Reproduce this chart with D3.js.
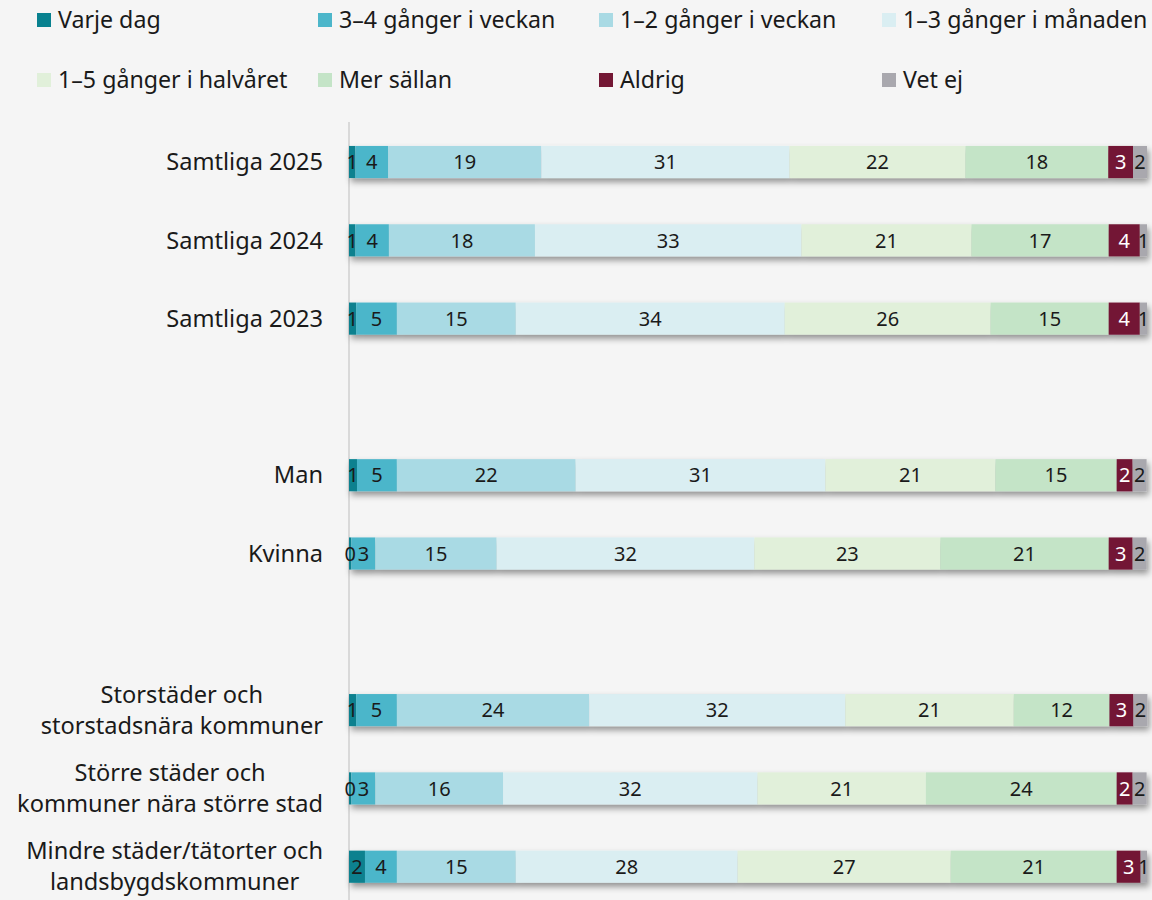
<!DOCTYPE html>
<html><head><meta charset="utf-8">
<script src="https://cdn.jsdelivr.net/npm/d3@7/dist/d3.min.js"></script>
<style>
html,body{margin:0;padding:0;background:#f5f5f5;}
svg{display:block;font-family:"Noto Sans","Open Sans",sans-serif;}
</style></head>
<body><svg id="chart" width="1152" height="900"></svg>
<script>
const categories = ["Samtliga 2025","Samtliga 2024","Samtliga 2023","gap1","Man","Kvinna","gap2",
  "Storstäder och\nstorstadsnära kommuner","Större städer och\nkommuner nära större stad","Mindre städer/tätorter och\nlandsbygdskommuner"];
const seriesNames = ["Varje dag","3–4 gånger i veckan","1–2 gånger i veckan","1–3 gånger i månaden",
  "1–5 gånger i halvåret","Mer sällan","Aldrig","Vet ej"];
const seriesColors = ["#08818f","#4cb6ca","#a9dae4","#daeef2","#e1f0da","#c4e4c7","#731734","#a9a8ae"];
const varjeDag   = [0.8,0.8,0.9,null,1.0,0.3,null,0.9,0.3,2.0];
const tre4Vecka  = [4.1,4.2,5.1,null,5.0,3.0,null,5.1,3.0,4.0];
const en2Vecka   = [19.2,18.3,14.9,null,22.4,15.2,null,24.1,16.0,14.9];
const en3Manad   = [31.1,33.4,33.7,null,31.3,32.3,null,32.1,31.9,27.8];
const en5Halvar  = [22.05,21.3,25.8,null,21.3,23.3,null,21.1,21.1,26.7];
const merSallan  = [17.9,17.2,14.8,null,15.2,21.1,null,12.0,23.9,20.8];
const aldrig     = [3.1,3.9,3.9,null,2.0,3.0,null,3.0,2.0,3.0];
const vetEj      = [1.75,0.9,0.9,null,1.75,1.75,null,1.75,1.75,0.8];
const seriesValues = [varjeDag,tre4Vecka,en2Vecka,en3Manad,en5Halvar,merSallan,aldrig,vetEj];
const xTicks = [0,100];

const svg = d3.select("#chart");
const defs = svg.append("defs");
const f = defs.append("filter").attr("id","shadow").attr("x","-5%").attr("y","-50%").attr("width","110%").attr("height","220%");
f.append("feDropShadow").attr("dx",2).attr("dy",4).attr("stdDeviation",3).attr("flood-color","#000").attr("flood-opacity",0.4);

const x = d3.scaleLinear().domain(xTicks).range([349,1147]);
const y = d3.scaleBand().domain(categories).range([122.85,905.85]).paddingInner(0.59).paddingOuter(0.295);

// axis line
svg.append("line").attr("x1",x(0)).attr("x2",x(0)).attr("y1",122).attr("y2",900)
  .attr("stroke","#cfcfcf").attr("stroke-width",1.5);

const rows = categories.map((c,i)=>{
  let acc=0; const segs=[];
  seriesValues.forEach((arr,k)=>{ const v=arr[i]; if(v==null) return; segs.push({k,v,x0:acc,x1:acc+v}); acc+=v; });
  return {c,segs};
}).filter(r=>r.segs.length);

const g = svg.selectAll("g.row").data(rows).join("g").attr("class","row");
g.append("g").attr("filter","url(#shadow)").selectAll("rect").data(d=>d.segs.map(s=>({...s,c:d.c}))).join("rect")
  .attr("x",d=>x(d.x0)).attr("width",d=>x(d.x1)-x(d.x0))
  .attr("y",d=>y(d.c)).attr("height",y.bandwidth())
  .attr("fill",d=>seriesColors[d.k]);
g.append("g").selectAll("text").data(d=>d.segs.map(s=>({...s,c:d.c}))).join("text")
  .attr("x",d=>(x(d.x0)+x(d.x1))/2).attr("y",d=>y(d.c)+y.bandwidth()/2)
  .attr("dy","0.36em").attr("text-anchor","middle").attr("font-size",20)
  .attr("fill",d=>d.k===6?"#ffffff":"#1a1a1a")
  .text(d=>Math.round(d.v));

// category labels
rows.forEach(r=>{
  const lines = r.c.split("\n");
  const t = svg.append("text").attr("font-size",23.6).attr("fill","#1a1a1a");
  const cy = y(r.c)+y.bandwidth()/2;
  const lh = 31;
  const spans = lines.map((l,i)=>t.append("tspan").text(l).attr("y",cy+(i-(lines.length-1)/2)*lh).attr("dy","0.35em"));
  const widths = spans.map(s=>s.node().getComputedTextLength());
  const mw = d3.max(widths);
  const cx = 323 - mw/2;
  spans.forEach(s=>s.attr("x",cx).attr("text-anchor","middle"));
});

// legend
const legX = [37,318,599,882];
const legY = [20,80];
const leg = svg.selectAll("g.leg").data(seriesNames).join("g").attr("class","leg")
  .attr("transform",(d,i)=>`translate(${legX[i%4]},${legY[Math.floor(i/4)]})`);
leg.append("rect").attr("x",0).attr("y",-7).attr("width",14).attr("height",14).attr("fill",(d,i)=>seriesColors[i]);
leg.append("text").attr("x",21).attr("y",0).attr("dy","0.35em").attr("font-size",23.2).attr("fill","#1a1a1a").text(d=>d);
</script></body></html>
